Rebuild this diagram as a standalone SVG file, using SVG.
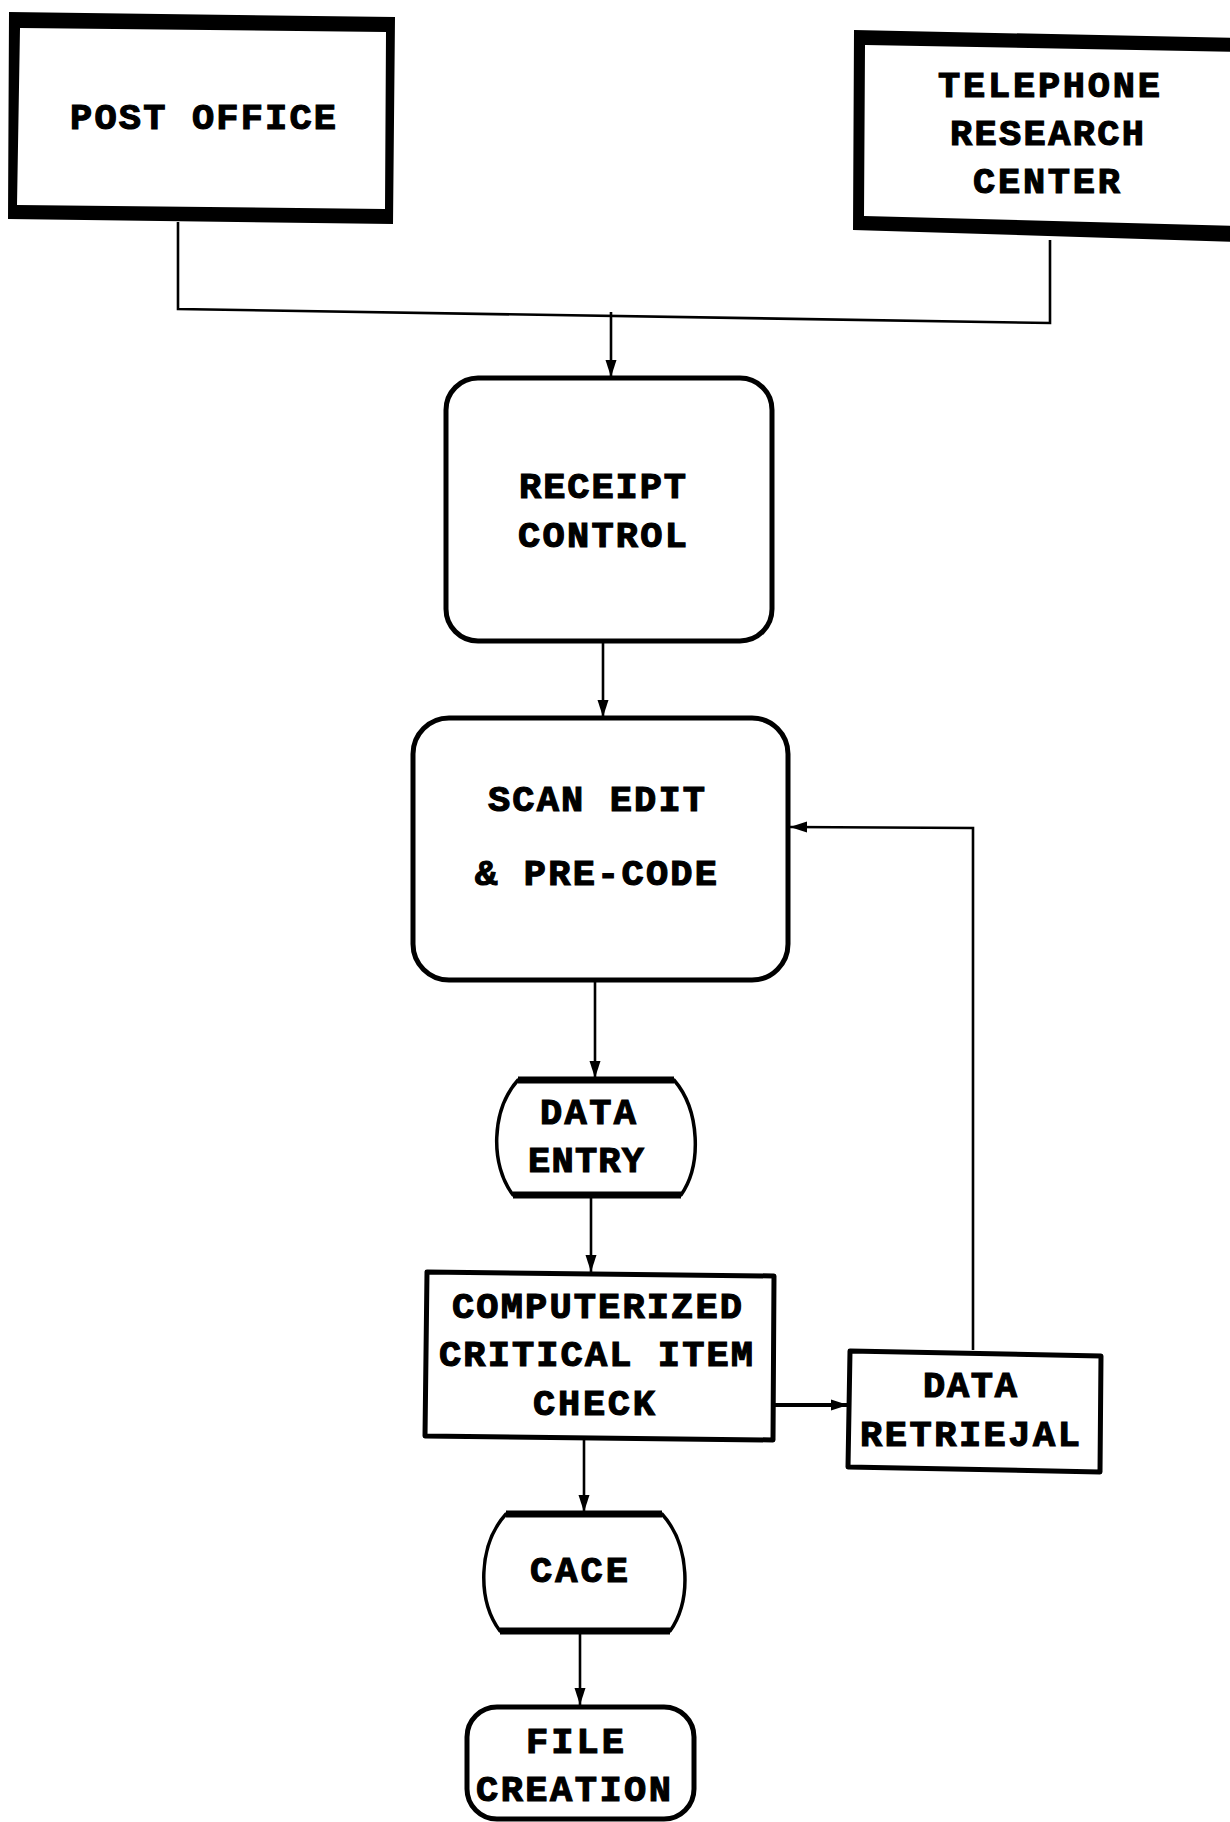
<svg xmlns="http://www.w3.org/2000/svg" width="1230" height="1822" viewBox="0 0 1230 1822">
  <style>
    .lbl { font-family: "Liberation Mono", "DejaVu Sans Mono", monospace; font-weight: bold; font-size: 37px; fill: #000; stroke: #000; stroke-width: 1.2px; text-anchor: start; }
    .frame { fill: #000; fill-rule: evenodd; stroke: none; }
    .box { fill: #fff; stroke: #000; stroke-width: 5; stroke-linejoin: round; }
    .edge { fill: none; stroke: #000; stroke-width: 7; stroke-linecap: butt; }
    .wire { fill: none; stroke: #000; stroke-width: 2.6; }
    .wire-bold { fill: none; stroke: #000; stroke-width: 4; }
  </style>
  <defs>
    <marker id="arrow" markerUnits="userSpaceOnUse" markerWidth="18" markerHeight="14" refX="17" refY="7" orient="auto">
      <path d="M0,1.5 L17,7 L0,12.5 Z" fill="#000"/>
    </marker>
  </defs>
  <rect width="1230" height="1822" fill="#fff"/>

  <!-- connectors -->
  <g id="connectors">
    <path class="wire" d="M178,222 L178,309 L1050,323 L1050,240"/>
    <path class="wire" d="M611,312 L611,377" marker-end="url(#arrow)"/>
    <path class="wire" d="M603,642 L603,717" marker-end="url(#arrow)"/>
    <path class="wire" d="M595,981 L595,1078" marker-end="url(#arrow)"/>
    <path class="wire" d="M591,1196 L591,1272" marker-end="url(#arrow)"/>
    <path class="wire-bold" d="M775,1405 L848,1405" marker-end="url(#arrow)"/>
    <path class="wire" d="M973,1350 L973,828 L790,827" marker-end="url(#arrow)"/>
    <path class="wire" d="M584,1440 L584,1512" marker-end="url(#arrow)"/>
    <path class="wire" d="M580,1632 L580,1705" marker-end="url(#arrow)"/>
  </g>

  <!-- POST OFFICE -->
  <g id="post-office">
    <path class="frame" d="M9,12 L395,17 L393,224 L8,219 Z M20,28 L386,32 L385,209 L17,205 Z"/>
    <text class="lbl" x="70" y="129" textLength="266" lengthAdjust="spacing">POST OFFICE</text>
  </g>

  <!-- TELEPHONE RESEARCH CENTER -->
  <g id="telephone-research-center">
    <path class="frame" d="M854,30 L1240,38 L1240,242 L853,230 Z M865,45 L1240,52 L1240,226 L864,216 Z"/>
    <text class="lbl" x="938" y="97" textLength="222" lengthAdjust="spacing">TELEPHONE</text>
    <text class="lbl" x="950" y="145" textLength="194" lengthAdjust="spacing">RESEARCH</text>
    <text class="lbl" x="973" y="193" textLength="147" lengthAdjust="spacing">CENTER</text>
  </g>

  <!-- RECEIPT CONTROL -->
  <g id="receipt-control">
    <rect class="box" x="446" y="378" width="326" height="263" rx="32" ry="32"/>
    <text class="lbl" x="519" y="498" textLength="167" lengthAdjust="spacing">RECEIPT</text>
    <text class="lbl" x="518" y="547" textLength="169" lengthAdjust="spacing">CONTROL</text>
  </g>

  <!-- SCAN EDIT & PRE-CODE -->
  <g id="scan-edit">
    <rect class="box" x="413" y="718" width="375" height="262" rx="36" ry="36"/>
    <text class="lbl" x="488" y="811" textLength="217" lengthAdjust="spacing">SCAN EDIT</text>
    <text class="lbl" x="475" y="885" textLength="242" lengthAdjust="spacing">&amp; PRE-CODE</text>
  </g>

  <!-- DATA ENTRY -->
  <g id="data-entry">
    <path class="box" style="stroke-width:3.5" d="M518,1080 L674,1080 C700,1110 702,1165 681,1195 L513,1195 C490,1165 491,1110 518,1080 Z"/>
    <path class="edge" d="M518,1080 L674,1080 M513,1195 L681,1195"/>
    <text class="lbl" x="540" y="1124" textLength="96" lengthAdjust="spacing">DATA</text>
    <text class="lbl" x="528" y="1172" textLength="116" lengthAdjust="spacing">ENTRY</text>
  </g>

  <!-- COMPUTERIZED CRITICAL ITEM CHECK -->
  <g id="critical-item-check">
    <path class="box" d="M427,1272 L774,1276 L773,1440 L425,1436 Z"/>
    <text class="lbl" x="452" y="1318" textLength="290" lengthAdjust="spacing">COMPUTERIZED</text>
    <text class="lbl" x="439" y="1366" textLength="314" lengthAdjust="spacing">CRITICAL ITEM</text>
    <text class="lbl" x="533" y="1415" textLength="122" lengthAdjust="spacing">CHECK</text>
  </g>

  <!-- DATA RETRIEJAL -->
  <g id="data-retrieval">
    <path class="box" d="M850,1351 L1101,1356 L1100,1472 L848,1467 Z"/>
    <text class="lbl" x="923" y="1397" textLength="94" lengthAdjust="spacing">DATA</text>
    <text class="lbl" x="860" y="1446" textLength="220" lengthAdjust="spacing">RETRIEJAL</text>
  </g>

  <!-- CACE -->
  <g id="cace">
    <path class="box" style="stroke-width:3.5" d="M506,1514 L662,1514 C690,1545 692,1600 670,1631 L500,1631 C477,1600 478,1545 506,1514 Z"/>
    <path class="edge" d="M506,1514 L662,1514 M500,1631 L670,1631"/>
    <text class="lbl" x="530" y="1582" textLength="98" lengthAdjust="spacing">CACE</text>
  </g>

  <!-- FILE CREATION -->
  <g id="file-creation">
    <rect class="box" x="467" y="1707" width="227" height="112" rx="30" ry="30"/>
    <text class="lbl" x="526" y="1753" textLength="98" lengthAdjust="spacing">FILE</text>
    <text class="lbl" x="476" y="1801" textLength="195" lengthAdjust="spacing">CREATION</text>
  </g>
</svg>
